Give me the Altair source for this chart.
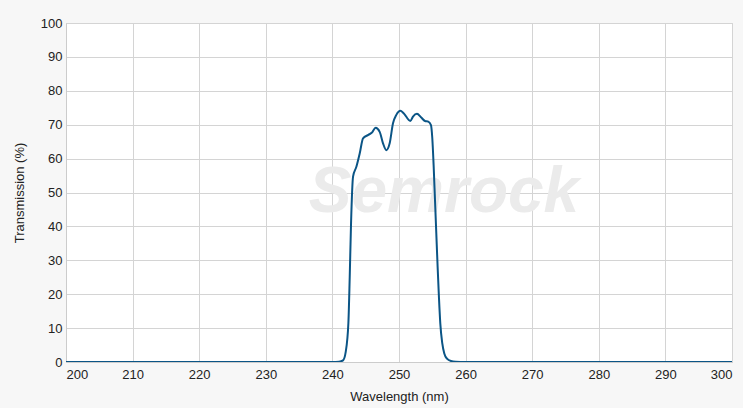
import altair as alt
import pandas as pd

wavelength = [200, 230, 240, 241.0, 241.6, 242.0, 242.4, 242.6, 242.8, 243.1, 243.6, 244.1,
              244.6, 245.4, 245.9, 246.5, 247.1, 247.6, 248.1, 248.6, 249.1, 249.6,
              250.2, 250.7, 251.7, 252.1, 252.7, 253.3, 253.9, 254.4, 254.8, 255.0,
              255.2, 255.4, 255.6, 255.8, 256.0, 256.2, 256.5, 256.8, 257.2, 257.8,
              258.5, 260, 270, 300]
transmission = [0, 0, 0.02, 0.1, 0.5, 3, 11.5, 25, 41, 54.7, 57.6, 61.5,
                66, 67, 67.6, 69.1, 67.9, 64.5, 62.5, 64.5, 70.4, 72.9,
                74.1, 73.4, 71.1, 72.4, 73.2, 72.2, 71.1, 70.9, 69.9, 66,
                58, 48, 38, 28, 19, 11.4, 5.5, 2.5, 1.0, 0.3,
                0.1, 0.02, 0.0, 0]

x_ticks = list(range(200, 301, 10))
y_ticks = list(range(0, 101, 10))
watermark = ["Semrock"]

df = pd.DataFrame({"Wavelength": wavelength, "Transmission": transmission})

W, H = 666, 339

line = alt.Chart(df).mark_line(
    color="#0b5586", strokeWidth=2, interpolate="monotone", clip=True
).encode(
    x=alt.X("Wavelength:Q",
            scale=alt.Scale(domain=[200, 300], nice=False, zero=False),
            axis=alt.Axis(title="Wavelength (nm)", values=x_ticks, format="d",
                          ticks=False, labelPadding=6, titlePadding=9,
                          domainColor="#cccccc", gridColor="#d4d4d4")),
    y=alt.Y("Transmission:Q",
            scale=alt.Scale(domain=[0, 100], nice=False),
            axis=alt.Axis(title="Transmission (%)", values=y_ticks, format="d",
                          ticks=False, labelPadding=4, titlePadding=14,
                          domainColor="#cccccc", gridColor="#d4d4d4")),
)

wm = alt.Chart(pd.DataFrame({"t": watermark})).mark_text(
    font="Liberation Sans", fontStyle="italic", fontWeight="bold", fontSize=64,
    color="#ebebeb", align="center", baseline="middle"
).encode(text="t:N", x=alt.value(378), y=alt.value(170))

chart = alt.layer(wm, line).properties(
    width=W, height=H,
    autosize=alt.AutoSizeParams(type="none"),
    padding={"left": 58, "top": 15, "right": 11, "bottom": 50},
    background="#f7f7f7",
).configure_view(
    fill="white", stroke="#cccccc"
).configure_axis(
    labelFont="Liberation Sans", titleFont="Liberation Sans",
    labelFontSize=13, titleFontSize=13, labelColor="#222222", titleColor="#222222",
    titleFontWeight="normal", grid=True
)

chart.save("out.html", embed_options={"renderer": "svg", "actions": False})

with open("out.html") as f:
    html = f.read()
html = html.replace(
    "<head>",
    "<head><style>html,body{background:#f7f7f7;overflow:hidden;} body{margin:8px 0 0 8px;}</style>",
    1)
with open("out.html", "w") as f:
    f.write(html)
